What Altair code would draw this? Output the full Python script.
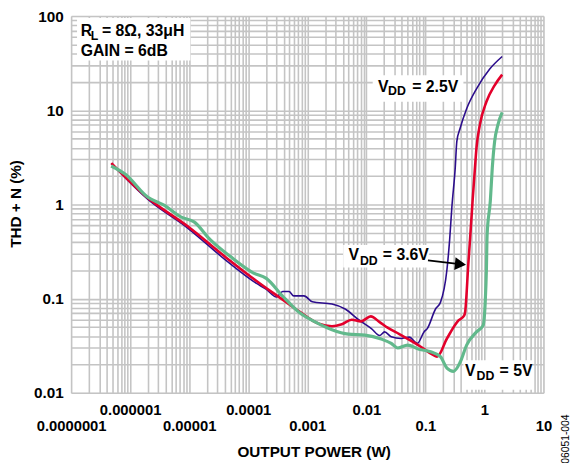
import altair as alt
import pandas as pd

# ---- data (THD+N vs output power) ----
vdd25_x = [4.8e-7, 2.0e-6, 9.3e-6, 4.35e-5, 1.38e-4, 2.0e-4, 3.0e-4, 3.84e-4, 4.9e-4, 5.9e-4,
           8.8e-4, 1.22e-3, 2.62e-3, 4.38e-3, 7.3e-3, 0.0122, 0.0168, 0.0204, 0.0264, 0.0387,
           0.0532, 0.0733, 0.0948, 0.1076, 0.1486, 0.180, 0.232, 0.2576, 0.281, 0.3206,
           0.341, 0.388, 0.50, 0.734, 1.23, 2.0]
vdd25_y = [2.72, 1.13, 0.565, 0.25, 0.145, 0.126, 0.104, 0.119, 0.119, 0.107,
           0.107, 0.0925, 0.0875, 0.0776, 0.06, 0.048, 0.0405, 0.0443, 0.0393, 0.0377,
           0.039, 0.0335, 0.0443, 0.048, 0.0776, 0.0912, 0.2037, 0.42, 0.937, 2.46,
           4.68, 6.45, 10.4, 16.9, 27.4, 37.2]

vdd36_x = [4.8e-7, 2.0e-6, 9.3e-6, 4.35e-5, 1.38e-4, 3.37e-4, 7.26e-4, 1.57e-3, 2.62e-3, 3.85e-3,
           5.66e-3, 8.09e-3, 0.0119, 0.0168, 0.0229, 0.0362, 0.0575, 0.0836, 0.1303, 0.158,
           0.232, 0.364, 0.453, 0.471, 0.535, 0.570, 0.631, 0.692, 0.734, 0.837, 1.08, 1.49, 2.0]
vdd36_y = [2.75, 1.17, 0.589, 0.269, 0.154, 0.103, 0.0731, 0.054, 0.0509, 0.0535,
           0.0596, 0.0573, 0.0648, 0.0563, 0.0491, 0.042, 0.0355, 0.0308, 0.0256, 0.0242,
           0.0377, 0.0586, 0.066, 0.0716, 0.239, 0.42, 1.10, 2.46, 3.98, 7.0, 12.3, 18.4, 23.9]

vdd5_x = [4.77e-7, 8.2e-7, 2.0e-6, 3.81e-6, 7.21e-6, 1.21e-5, 2.29e-5, 4.93e-5, 1.21e-4, 2.02e-4,
          3.84e-4, 7.26e-4, 1.38e-3, 2.62e-3, 4.96e-3, 9.44e-3, 0.0179, 0.0264, 0.034, 0.0499,
          0.0782, 0.1225, 0.180, 0.232, 0.30, 0.388, 0.50, 0.734, 0.951, 1.03, 1.08, 1.11,
          1.26, 1.36, 1.49, 1.69, 2.0]
vdd5_y = [2.56, 2.10, 1.19, 0.977, 0.736, 0.653, 0.42, 0.281, 0.188, 0.164,
          0.106, 0.0716, 0.0563, 0.0468, 0.042, 0.041, 0.0372, 0.0334, 0.0299, 0.0321,
          0.029, 0.0273, 0.0242, 0.0183, 0.0169, 0.0211, 0.0321, 0.0443, 0.052, 0.09, 0.2, 0.47,
          1.10, 2.46, 4.68, 7.0, 9.49]

# annotation text pieces (anchors in data units)
main_text = ["R", "= 8Ω, 33μH", "GAIN = 6dB", "V", "= 2.5V", "V", "= 3.6V", "V", "= 5V"]
main_x = [1.452e-7, 3.33e-7, 1.452e-7, 0.01574, 0.0597, 0.004966, 0.01905, 0.471, 1.807]
main_y = [61.3, 61.3, 37.8, 15.62, 15.62, 0.2549, 0.2549, 0.01496, 0.01496]
sub_text = ["L", "DD", "DD", "DD"]
sub_x = [2.158e-7, 0.02328, 0.00778, 0.7345]
sub_y = [55.4, 14.36, 0.2298, 0.01368]

# white label boxes
box_x = [1.26e-7, 0.01282, 0.00406, 0.441]
box_x2 = [1.047e-5, 0.441, 0.1148, 6.5]
box_y = [33.8, 12.3, 0.2138, 0.01074]
box_y2 = [95.3, 23.5, 0.372, 0.0222]

arrow_x = [0.1106, 0.3243]
arrow_y = [0.2547, 0.2353]
head_x = [0.3928]
head_y = [0.2325]

note_x = [24.5]
note_y = [0.00322]
note_text = ["06051-004"]

FONT = "Liberation Sans"

xvals = [k * 10.0 ** e for e in range(-7, 1) for k in range(1, 10)] + [10.0]
yvals = [k * 10.0 ** e for e in range(-2, 2) for k in range(1, 10)] + [100.0]
decade = "abs(log(datum.value)/LN10 - round(log(datum.value)/LN10)) < 0.001 ? datum.label : ''"
odd = "abs(round(log(datum.value)/LN10)) % 2 == 1"

xscale = alt.Scale(type="log", domain=[1e-7, 10], nice=False)
yscale = alt.Scale(type="log", domain=[0.01, 100], nice=False)

GRID = "#c4c4c4"

xaxis = alt.Axis(values=xvals, format=".7~f", labelExpr=decade,
                 labelPadding={"condition": {"test": odd, "value": 26}, "value": 10},
                 tickSize=0, domain=False, grid=True, gridColor=GRID, gridWidth=1.6,
                 labelFont=FONT, labelFontSize=15, labelFontWeight="bold", labelColor="black",
                 labelOverlap=False, labelFlush=False,
                 title="OUTPUT POWER (W)", titleFont=FONT, titleFontSize=15.5, titleFontWeight="bold",
                 titleColor="black", titleX=246, titleY=60, titleBaseline="middle")
yaxis = alt.Axis(values=yvals, format=".2~f", labelExpr=decade, labelPadding=8,
                 tickSize=0, domain=False, grid=True, gridColor=GRID, gridWidth=1.6,
                 labelFont=FONT, labelFontSize=15.5, labelFontWeight="bold", labelColor="black",
                 labelOverlap=False, labelFlush=False,
                 title="THD + N (%)", titleFont=FONT, titleFontSize=15.5, titleFontWeight="bold",
                 titleColor="black", titleX=-56, titleY=190, titleBaseline="middle", titleAlign="center")


def curve(xs, ys, color, width):
    df = pd.DataFrame({"x": xs, "y": ys, "i": range(len(xs))})
    return alt.Chart(df).mark_line(color=color, strokeWidth=width, interpolate="monotone").encode(
        x=alt.X("x:Q", scale=xscale, axis=xaxis),
        y=alt.Y("y:Q", scale=yscale, axis=yaxis),
        order="i:Q",
    )


boxes = alt.Chart(pd.DataFrame({"x": box_x, "x2": box_x2, "y": box_y, "y2": box_y2})).mark_rect(
    color="white").encode(
    x=alt.X("x:Q", scale=xscale, axis=xaxis), x2="x2", y=alt.Y("y:Q", scale=yscale, axis=yaxis), y2="y2")

blue = curve(vdd25_x, vdd25_y, "#2c0d8c", 1.6)
red = curve(vdd36_x, vdd36_y, "#e3002b", 2.6)
green = curve(vdd5_x, vdd5_y, "#62b98c", 3.2)

arrow = alt.Chart(pd.DataFrame({"x": arrow_x, "y": arrow_y})).mark_line(
    color="black", strokeWidth=1.6).encode(x=alt.X("x:Q", scale=xscale), y=alt.Y("y:Q", scale=yscale))
head = alt.Chart(pd.DataFrame({"x": head_x, "y": head_y})).mark_point(
    shape="triangle-right", filled=True, color="black", size=170, angle=6, opacity=1).encode(
    x=alt.X("x:Q", scale=xscale), y=alt.Y("y:Q", scale=yscale))

main_lbl = alt.Chart(pd.DataFrame({"x": main_x, "y": main_y, "t": main_text})).mark_text(
    font=FONT, fontSize=16, fontWeight="bold", align="left", baseline="alphabetic", color="black").encode(
    x=alt.X("x:Q", scale=xscale), y=alt.Y("y:Q", scale=yscale), text="t:N")
sub_lbl = alt.Chart(pd.DataFrame({"x": sub_x, "y": sub_y, "t": sub_text})).mark_text(
    font=FONT, fontSize=12.5, fontWeight="bold", align="left", baseline="alphabetic", color="black").encode(
    x=alt.X("x:Q", scale=xscale), y=alt.Y("y:Q", scale=yscale), text="t:N")
note = alt.Chart(pd.DataFrame({"x": note_x, "y": note_y, "t": note_text})).mark_text(
    font=FONT, fontSize=10.5, angle=270, align="center", baseline="middle", color="black").encode(
    x=alt.X("x:Q", scale=xscale), y=alt.Y("y:Q", scale=yscale), text="t:N")

chart = alt.layer(boxes, blue, red, green, arrow, head, main_lbl, sub_lbl, note).properties(
    width=479, height=382,
    padding={"left": 64, "top": 5, "right": 33, "bottom": 68},
    autosize=alt.AutoSizeParams(type="none"),
).configure_view(stroke="black", strokeWidth=2).configure(background="white")

chart.save("out.html", embed_options={"renderer": "svg", "actions": False})
